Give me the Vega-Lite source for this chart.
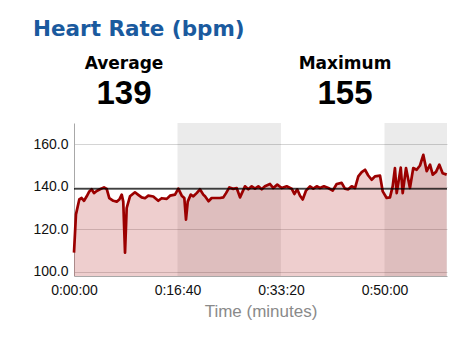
{
  "$schema": "https://vega.github.io/schema/vega-lite/v6.json",
  "background": "white",
  "padding": {"left": 32, "top": 18, "right": 20, "bottom": 5},
  "title": {"text": "Heart Rate (bpm)", "anchor": "start", "fontSize": 21.5, "font": "DejaVu Sans", "fontWeight": "bold", "color": "#1a5a9e", "offset": 15},
  "datasets": {
    "hr": [
      {"t": 0, "bpm": 109}, {"t": 19, "bpm": 127}, {"t": 51, "bpm": 134}, {"t": 74, "bpm": 134.7},
      {"t": 97, "bpm": 133.4}, {"t": 123, "bpm": 135.5}, {"t": 148, "bpm": 137.8}, {"t": 171, "bpm": 138.8},
      {"t": 193, "bpm": 137}, {"t": 219, "bpm": 138}, {"t": 251, "bpm": 138.8}, {"t": 290, "bpm": 139.7},
      {"t": 316, "bpm": 139}, {"t": 341, "bpm": 134.7}, {"t": 380, "bpm": 133.4}, {"t": 413, "bpm": 133},
      {"t": 438, "bpm": 134}, {"t": 461, "bpm": 136.3}, {"t": 476, "bpm": 133}, {"t": 493, "bpm": 109},
      {"t": 509, "bpm": 130}, {"t": 541, "bpm": 135.5}, {"t": 589, "bpm": 137.4}, {"t": 621, "bpm": 136.2},
      {"t": 654, "bpm": 135}, {"t": 686, "bpm": 134.6}, {"t": 718, "bpm": 135.8}, {"t": 766, "bpm": 135.4},
      {"t": 814, "bpm": 133.4}, {"t": 847, "bpm": 134.6}, {"t": 896, "bpm": 134.3}, {"t": 928, "bpm": 135.8},
      {"t": 976, "bpm": 136.3}, {"t": 1008, "bpm": 139.1}, {"t": 1041, "bpm": 135.8}, {"t": 1066, "bpm": 134.7},
      {"t": 1082, "bpm": 124.5}, {"t": 1099, "bpm": 133}, {"t": 1128, "bpm": 136.3}, {"t": 1153, "bpm": 135.5},
      {"t": 1185, "bpm": 137}, {"t": 1217, "bpm": 138.8}, {"t": 1249, "bpm": 136.3}, {"t": 1266, "bpm": 135.5},
      {"t": 1300, "bpm": 133.2}, {"t": 1330, "bpm": 134.7}, {"t": 1411, "bpm": 134.7}, {"t": 1443, "bpm": 135},
      {"t": 1469, "bpm": 137}, {"t": 1501, "bpm": 139.7}, {"t": 1539, "bpm": 139}, {"t": 1572, "bpm": 139.4},
      {"t": 1604, "bpm": 135}, {"t": 1652, "bpm": 140.2}, {"t": 1684, "bpm": 138.8}, {"t": 1717, "bpm": 140.2},
      {"t": 1749, "bpm": 139.1}, {"t": 1781, "bpm": 140.2}, {"t": 1814, "bpm": 138.8}, {"t": 1845, "bpm": 140.2},
      {"t": 1894, "bpm": 141.3}, {"t": 1926, "bpm": 139.4}, {"t": 1964, "bpm": 141}, {"t": 2007, "bpm": 139.4},
      {"t": 2055, "bpm": 140.2}, {"t": 2103, "bpm": 139.1}, {"t": 2129, "bpm": 136.6}, {"t": 2157, "bpm": 138.8},
      {"t": 2184, "bpm": 135.8}, {"t": 2210, "bpm": 134}, {"t": 2242, "bpm": 138.2}, {"t": 2280, "bpm": 140.2},
      {"t": 2312, "bpm": 139.1}, {"t": 2345, "bpm": 140.2}, {"t": 2377, "bpm": 139.4}, {"t": 2415, "bpm": 140.2},
      {"t": 2457, "bpm": 139.4}, {"t": 2500, "bpm": 138.2}, {"t": 2538, "bpm": 141.3}, {"t": 2586, "bpm": 141.8},
      {"t": 2618, "bpm": 139.1}, {"t": 2650, "bpm": 138.8}, {"t": 2683, "bpm": 140.2}, {"t": 2715, "bpm": 139.4},
      {"t": 2747, "bpm": 144.9}, {"t": 2780, "bpm": 146.9}, {"t": 2812, "bpm": 148}, {"t": 2843, "bpm": 145.3},
      {"t": 2876, "bpm": 143.3}, {"t": 2908, "bpm": 144.9}, {"t": 2957, "bpm": 145.2}, {"t": 2983, "bpm": 137.8},
      {"t": 3021, "bpm": 134.7}, {"t": 3053, "bpm": 135}, {"t": 3079, "bpm": 140.2}, {"t": 3101, "bpm": 148.8},
      {"t": 3118, "bpm": 137}, {"t": 3157, "bpm": 149}, {"t": 3176, "bpm": 137}, {"t": 3208, "bpm": 148.8},
      {"t": 3246, "bpm": 139.4}, {"t": 3278, "bpm": 148.8}, {"t": 3311, "bpm": 148}, {"t": 3343, "bpm": 150},
      {"t": 3375, "bpm": 155}, {"t": 3408, "bpm": 147.3}, {"t": 3440, "bpm": 150.4}, {"t": 3466, "bpm": 145.7},
      {"t": 3498, "bpm": 147}, {"t": 3530, "bpm": 150.4}, {"t": 3562, "bpm": 146.4}, {"t": 3601, "bpm": 145.7}
    ],
    "stats": [
      {"stat": "Average", "part": "label", "text": "Average"},
      {"stat": "Average", "part": "number", "text": "139"},
      {"stat": "Maximum", "part": "label", "text": "Maximum"},
      {"stat": "Maximum", "part": "number", "text": "155"}
    ],
    "bands": [{"start": 1000, "end": 2000}, {"start": 3000, "end": 3604}],
    "avg": [{"avg": 139}]
  },
  "vconcat": [
    {
      "width": 373,
      "height": 35,
      "data": {"name": "stats"},
      "encoding": {
        "x": {"field": "stat", "type": "nominal", "scale": {"type": "point", "range": [50, 271], "padding": 0}, "axis": null},
        "y": {"field": "part", "type": "nominal", "scale": {"type": "point", "domain": ["label", "number"], "padding": 0}, "axis": null},
        "text": {"field": "text"}
      },
      "layer": [
        {"transform": [{"filter": "datum.part === 'label'"}], "mark": {"type": "text", "fontSize": 17, "fontWeight": "bold", "font": "DejaVu Sans", "baseline": "alphabetic", "color": "#000"}},
        {"transform": [{"filter": "datum.part === 'number'"}], "mark": {"type": "text", "fontSize": 33, "fontWeight": "bold", "font": "Liberation Sans", "baseline": "alphabetic", "color": "#000"}}
      ]
    },
    {
      "width": 373,
      "height": 153,
      "layer": [
        {
          "data": {"name": "bands"},
          "mark": {"type": "rect", "color": "#000", "opacity": 0.078},
          "encoding": {
            "x": {"field": "start", "type": "quantitative", "scale": {"domain": [0, 3604], "nice": false, "zero": false},
              "axis": {"title": "Time (minutes)", "values": [0, 1000, 2000, 3000],
                "labelExpr": "floor(datum.value/3600) + ':' + (floor((datum.value%3600)/60) < 10 ? '0' : '') + floor((datum.value%3600)/60) + ':' + (datum.value%60 < 10 ? '0' : '') + (datum.value%60)",
                "grid": false, "ticks": false, "domainColor": "#a8a8a8", "labelFontSize": 14, "labelColor": "#111", "labelPadding": 7,
                "titleFontSize": 17, "titleFontWeight": "normal", "titleColor": "#8a8a8a", "titlePadding": 6, "labelFlush": false}},
            "x2": {"field": "end"}
          }
        },
        {
          "data": {"name": "hr"},
          "mark": {"type": "area", "color": "#b22222", "opacity": 0.22, "clip": true},
          "encoding": {
            "x": {"field": "t", "type": "quantitative"},
            "y": {"field": "bpm", "type": "quantitative", "scale": {"domain": [98, 170], "nice": false, "zero": false},
              "axis": {"title": null, "values": [100, 120, 140, 160], "format": ".1f", "grid": true, "gridColor": "#d4d4d4", "ticks": false,
                "domainColor": "#a8a8a8", "labelFontSize": 14, "labelColor": "#111", "labelPadding": 6}}
          }
        },
        {
          "data": {"name": "hr"},
          "mark": {"type": "line", "color": "#9b0000", "strokeWidth": 2.7, "strokeJoin": "round"},
          "encoding": {
            "x": {"field": "t", "type": "quantitative"},
            "y": {"field": "bpm", "type": "quantitative"}
          }
        },
        {
          "data": {"name": "avg"},
          "mark": {"type": "rule", "color": "#000", "strokeWidth": 1.2},
          "encoding": {"y": {"field": "avg", "type": "quantitative"}}
        }
      ]
    }
  ],
  "config": {
    "font": "Liberation Sans",
    "view": {"stroke": null},
    "concat": {"spacing": 12}
  }
}
